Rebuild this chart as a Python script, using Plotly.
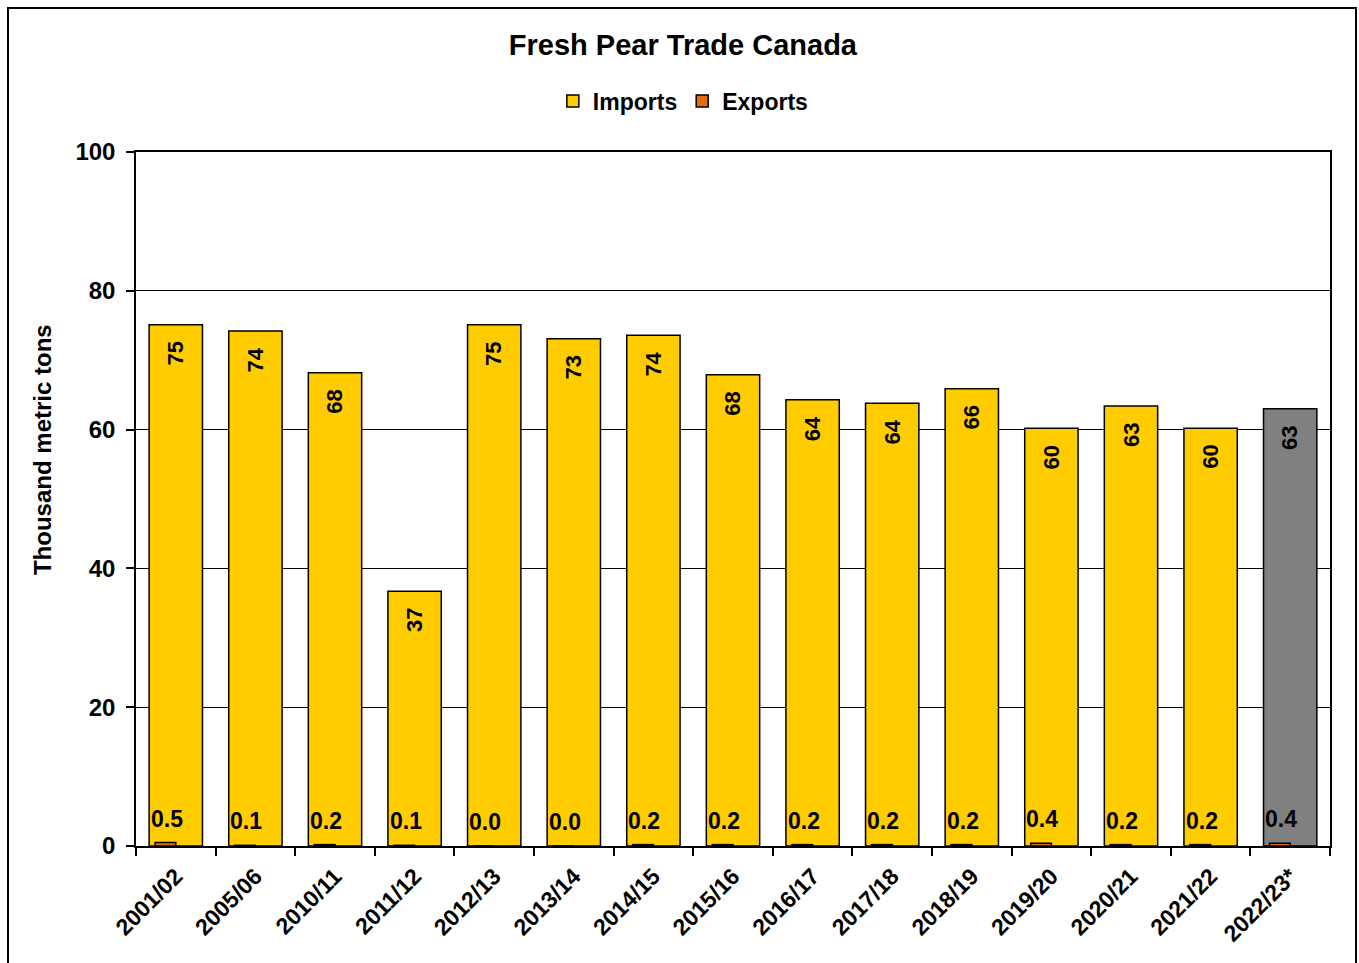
import plotly.graph_objects as go

# Marketing years shown on the category axis
seasons = ["2001/02", "2005/06", "2010/11", "2011/12", "2012/13", "2013/14",
           "2014/15", "2015/16", "2016/17", "2017/18", "2018/19", "2019/20",
           "2020/21", "2021/22", "2022/23*"]

# Thousand metric tons
imports = [75.1, 74.2, 68.2, 36.7, 75.1, 73.1, 73.6, 67.9, 64.3, 63.8,
           65.9, 60.2, 63.4, 60.2, 63.0]
exports = [0.5, 0.1, 0.2, 0.1, 0.0, 0.0, 0.2, 0.2, 0.2, 0.2, 0.2, 0.4,
           0.2, 0.2, 0.4]

YELLOW = "#FFCC00"
GREY = "#808080"
ORANGE = "#E46C0A"
FONT = "Arial, 'Liberation Sans', sans-serif"

# last season is a forecast -> grey bar
import_colors = [YELLOW] * (len(seasons) - 1) + [GREY]

fig = go.Figure()
fig.add_trace(go.Bar(
    x=seasons, y=imports, name="Imports",
    marker=dict(color=import_colors, line=dict(color="black", width=1.5)),
    width=0.67,
))
fig.add_trace(go.Bar(
    x=seasons, y=exports, name="Exports",
    marker=dict(color=ORANGE, line=dict(color="black", width=1.5)),
    width=0.26, offset=-0.26,
))

annotations = []
for s, v in zip(seasons, imports):
    annotations.append(dict(
        x=s, y=v, text=f"{v:.0f}", showarrow=False, textangle=-90,
        yanchor="middle", xanchor="center", yshift=-29,
        font=dict(family=FONT, size=22, color="black", weight="bold"),
    ))
for s, v in zip(seasons, exports):
    annotations.append(dict(
        x=s, y=v, text=f"{v:.1f}", showarrow=False,
        yanchor="middle", xanchor="center", yshift=24, xshift=-9,
        font=dict(family=FONT, size=23, color="black", weight="bold"),
    ))

# y-axis title
annotations.append(dict(
    xref="paper", yref="paper", x=-0.0787, y=0.5706,
    text="Thousand metric tons", showarrow=False, textangle=-90,
    xanchor="center", yanchor="middle",
    font=dict(family=FONT, size=24, color="black", weight="bold"),
))

fig.update_layout(
    width=1359, height=963,
    margin=dict(l=136, r=29, t=152, b=117, autoexpand=False),
    paper_bgcolor="white", plot_bgcolor="white",
    barmode="overlay",
    font=dict(family=FONT, size=23, color="black"),
    title=dict(
        text="Fresh Pear Trade Canada", x=0.5025, xanchor="center",
        y=1 - 45 / 963, yanchor="middle",
        font=dict(family=FONT, size=29, color="black", weight="bold"),
    ),
    legend=dict(
        orientation="h", x=0.458, xanchor="center", y=1.0735,
        yanchor="middle",
        font=dict(family=FONT, size=23, color="black", weight="bold"),
        bgcolor="rgba(0,0,0,0)", traceorder="normal",
        itemwidth=30,
    ),
    showlegend=True,
    annotations=annotations,
    shapes=[dict(
        type="rect", xref="paper", yref="paper",
        x0=-0.1072, x1=1.0218, y0=-0.1787, y1=1.2075,
        line=dict(color="black", width=2), fillcolor="rgba(0,0,0,0)",
        layer="below",
    )],
)

fig.update_xaxes(
    type="category", showline=True, linecolor="black", linewidth=1.5,
    mirror=True, ticks="outside", ticklen=8, tickcolor="black",
    tickwidth=1.5, tickson="boundaries", tickangle=-45,
    ticklabelstandoff=6,
    tickfont=dict(family=FONT, size=23, color="black", weight="bold"),
    showgrid=False,
)
fig.update_yaxes(
    range=[0, 100], tickvals=[0, 20, 40, 60, 80, 100],
    showline=True, linecolor="black", linewidth=1.5, mirror=True,
    ticks="outside", ticklen=8, tickcolor="black", tickwidth=1.5,
    ticklabelstandoff=6,
    showgrid=True, gridcolor="black", gridwidth=1, zeroline=False,
    tickfont=dict(family=FONT, size=24, color="black", weight="bold"),
)

fig.write_html("out.html")
